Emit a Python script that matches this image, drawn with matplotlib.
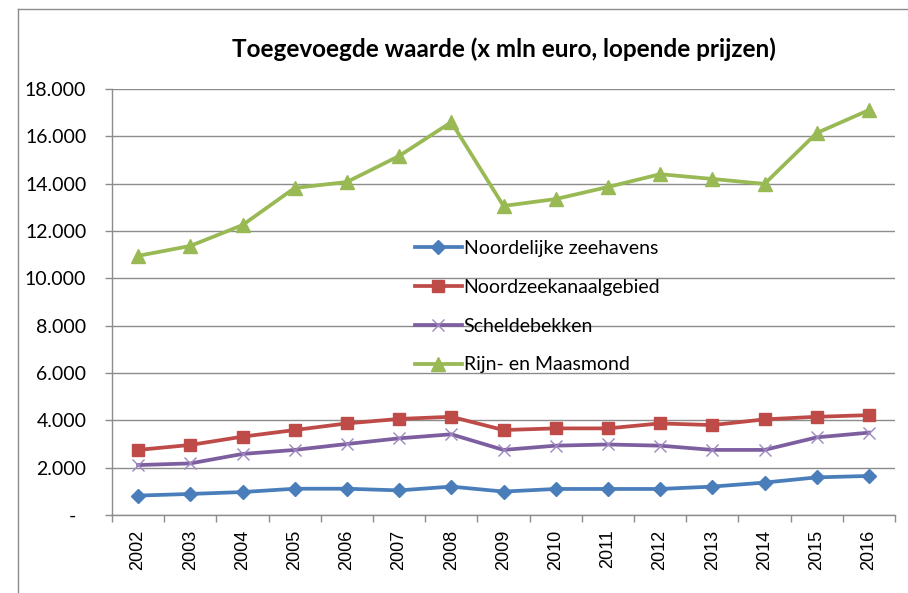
import matplotlib
matplotlib.use("Agg")
import matplotlib.pyplot as plt
from matplotlib.lines import Line2D
from matplotlib.ticker import FixedLocator, FuncFormatter

years = ["2002", "2003", "2004", "2005", "2006", "2007", "2008", "2009",
         "2010", "2011", "2012", "2013", "2014", "2015", "2016"]
noordelijke = [820, 890, 970, 1110, 1110, 1040, 1200, 990, 1100, 1100, 1100, 1200, 1370, 1590, 1650]
noordzeekanaal = [2750, 2960, 3310, 3590, 3870, 4060, 4150, 3590, 3660, 3660, 3870, 3800, 4040, 4150, 4220]
schelde = [2110, 2180, 2580, 2750, 3000, 3240, 3410, 2750, 2930, 2980, 2930, 2750, 2750, 3280, 3480]
rijnmaas = [10950, 11370, 12250, 13820, 14070, 15170, 16600, 13060, 13350, 13860, 14400, 14200, 13990, 16140, 17110]
series_names = ["Noordelijke zeehavens", "Noordzeekanaalgebied", "Scheldebekken", "Rijn- en Maasmond"]
title = "Toegevoegde waarde (x mln euro, lopende prijzen)"

plt.rcParams['font.family'] = ['Lato', 'DejaVu Sans']

fig = plt.figure(figsize=(9.08, 5.93), dpi=100)
ax = fig.add_axes([112/908, 1-515/593, (895-112)/908, (515-89)/593])

x = list(range(len(years)))
styles = [
    dict(color="#4A7EBB", marker="D", markersize=7),
    dict(color="#BE4B48", marker="s", markersize=8.5),
    dict(color="#7D5FA0", marker="x", markersize=9, markeredgewidth=1.0, markeredgecolor="#9C87C0"),
    dict(color="#98B954", marker="^", markersize=9.5),
]
data = [noordelijke, noordzeekanaal, schelde, rijnmaas]
for vals, name, st in zip(data, series_names, styles):
    ax.plot(x, vals, linewidth=2.7, label=name, solid_joinstyle="round", **st)

ax.set_xlim(-0.5, len(years) - 0.5)
ax.set_ylim(0, 18000)
ax.yaxis.set_major_locator(FixedLocator(list(range(0, 18001, 2000))))
ax.yaxis.set_major_formatter(FuncFormatter(lambda v, p: "-  " if v == 0 else f"{int(v):,}".replace(",", ".")))
ax.grid(axis="y", color="#8C8C8C", linewidth=1.0)
ax.set_axisbelow(True)

ax.set_xticks(x)
ax.set_xticklabels(years, rotation=90, family=["Liberation Sans", "DejaVu Sans"], fontsize=13)
ax.set_xticks([i - 0.5 for i in range(len(years) + 1)], minor=True)
ax.tick_params(axis="x", which="major", length=0, pad=10.5, colors="black")
ax.tick_params(axis="x", which="minor", length=5, width=1, color="#8C8C8C", direction="out")
ax.tick_params(axis="y", length=5, width=1, color="#8C8C8C", labelsize=14, pad=13.5)

for s in ["top", "right"]:
    ax.spines[s].set_visible(False)
for s in ["left", "bottom"]:
    ax.spines[s].set_color("#8C8C8C")
    ax.spines[s].set_linewidth(1)

fig.text(504/908, 1-57/593, title, ha="center", va="baseline", fontsize=17.5, fontweight="bold")

leg = ax.legend(loc="upper left", bbox_to_anchor=((415-112)/783, (515-240)/426), frameon=False,
                fontsize=14, handlelength=2.4, labelspacing=1.12, handletextpad=0.1,
                borderaxespad=0, borderpad=0)

# chart border (top and left edges visible)
fig.add_artist(Line2D([18/908, 1.0], [1-9/593, 1-9/593], transform=fig.transFigure,
                      color="#8C8C8C", linewidth=1))
fig.add_artist(Line2D([18/908, 18/908], [0.0, 1-9/593], transform=fig.transFigure,
                      color="#8C8C8C", linewidth=1))

fig.savefig("out.png", dpi=100)
